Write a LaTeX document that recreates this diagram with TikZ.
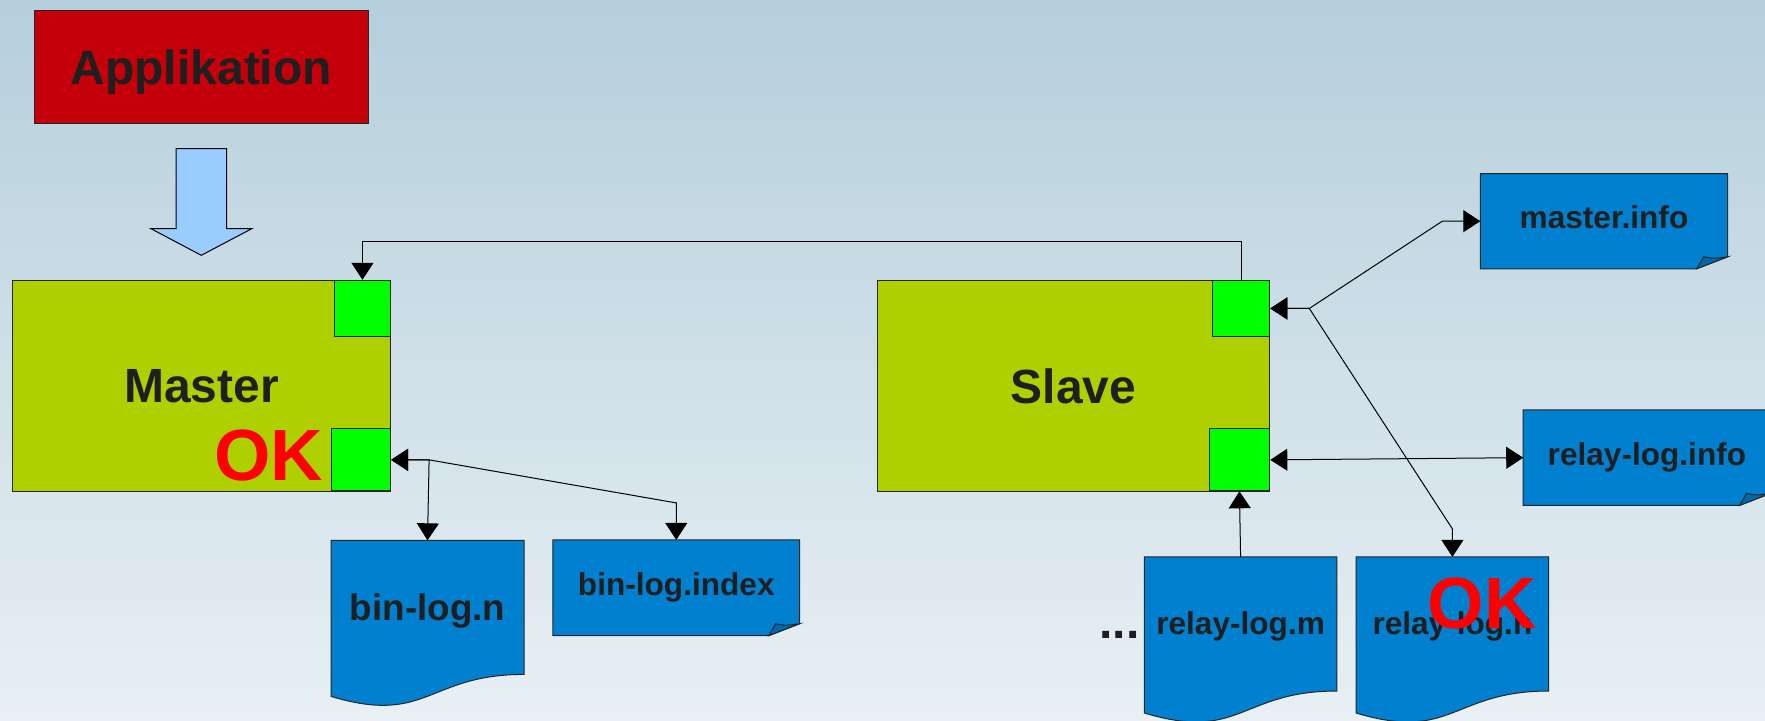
\documentclass[tikz,border=0pt]{standalone}
\usepackage{fontspec}
\setmainfont{Liberation Sans}
\usepackage{tikz}
\usetikzlibrary{arrows.meta,calc}
\definecolor{BgTop}{HTML}{B5CFDC}
\definecolor{BgBottom}{HTML}{E8F0F4}
\definecolor{AppRed}{HTML}{C4000B}
\definecolor{ArrowBlue}{HTML}{99CCFF}
\definecolor{NodeGreen}{HTML}{AFD000}
\definecolor{PortGreen}{HTML}{00FF00}
\definecolor{DocBlue}{HTML}{0080CF}
\definecolor{FoldBlue}{HTML}{0069AD}
\definecolor{TextDark}{HTML}{1F1F1F}
\pgfdeclarelayer{back}
\pgfdeclarelayer{mid}
\pgfsetlayers{back,mid,main}

\begin{document}
\begin{tikzpicture}[x=0.5pt,y=-0.5pt,
    box/.style={draw=black!85,line width=0.5pt,text=TextDark,font=\bfseries\fontsize{24}{28}\selectfont},
    port/.style={draw=black!85,line width=0.5pt,fill=PortGreen},
    file/.style={inner sep=0pt,text=TextDark,font=\bfseries\fontsize{15.8}{19}\selectfont},
    doc/.style={draw=black!85,line width=0.5pt,fill=DocBlue},
    ok/.style={text=red,font=\bfseries\fontsize{36.3}{40}\selectfont},
    link/.style={line width=0.5pt,>={Triangle[length=8.5pt,width=11pt]}}]
    \useasboundingbox (0,0) rectangle (1765,720);
    \begin{pgfonlayer}{back}
    \fill[top color=BgTop,bottom color=BgBottom] (0,0) rectangle (1765,720);
    \end{pgfonlayer}
    %%Application
    \node[box,fill=AppRed,minimum width=167pt,minimum height=56.7pt,text depth=0pt] (app) at (201.3,67) {Applikation};
    \draw[fill=ArrowBlue,line width=0.5pt] (176,148.7) -- (226.7,148.7) -- (226.7,228.7) -- (251.7,228.7) -- (201.3,255.3) -- (151,228.7) -- (176,228.7) -- cycle;
    %%Master and slave
    \node[box,fill=NodeGreen,minimum width=189.1pt,minimum height=105.8pt] (master) at (201.5,386.1) {Master};
    \node[port,minimum width=28.15pt,minimum height=28.15pt] (mtop) at (362.45,308.45) {};
    \node[port,minimum width=29.7pt,minimum height=30.95pt] (mbot) at (360.9,459.85) {};
    \node[ok] (okm) at (268.5,455) {OK};
    \node[box,fill=NodeGreen,minimum width=196.4pt,minimum height=105.7pt] (slave) at (1073.4,386) {Slave};
    \node[port,minimum width=28.7pt,minimum height=28.15pt] (stop) at (1241.1,308.45) {};
    \node[port,minimum width=30.4pt,minimum height=30.95pt] (sbot) at (1239.4,459.85) {};
    %%Files
    \node[file,minimum width=96.1pt,minimum height=66.65pt,text depth=0pt,font=\bfseries\fontsize{18.4}{22}\selectfont] (binn) at (427.5,607.35) {bin-log.n};
    \node[file,minimum width=123pt,minimum height=47.5pt] (binidx) at (676.25,587.8) {bin-log.index};
    \node[file,minimum width=123.3pt,minimum height=47.2pt,text depth=4pt] (minfo) at (1604,221.15) {master.info};
    \node[file,minimum width=123.3pt,minimum height=47.3pt] (rinfo) at (1646.9,457.65) {relay-log.info};
    \node[file,minimum width=95.8pt,minimum height=66.65pt,text depth=1.3pt] (rlogm) at (1240.6,623.95) {relay-log.m};
    \node[file,minimum width=95.9pt,minimum height=66.65pt,text depth=1.3pt] (rlogn) at (1452.4,623.95) {relay-log.n};
    \node[ok] (okn) at (1482,603) {OK};
    \node[file,anchor=base,font=\bfseries\fontsize{24}{28}\selectfont] (dots) at (1119.5,638) {...};
    \begin{pgfonlayer}{mid}
    \foreach \d in {binn,rlogm,rlogn}
    {
    \draw[doc] (\d.north west) -- (\d.north east) -- (\d.south east) .. controls (\d.south) and ($(\d.south)+(0,51)$) .. ($(\d.south west)+(0,22)$) -- cycle;
    }
    \foreach \d in {binidx,minfo,rinfo}
    {
    \draw[doc] (\d.north west) -- (\d.north east) -- ($(\d.south east)+(0,-12)$) -- ($(\d.south east)+(-31,0)$) -- (\d.south west) -- cycle;
    \draw[doc,fill=FoldBlue] ($(\d.south east)+(-31,0)$) -- ($(\d.south east)+(-24,-12)$) .. controls ($(\d.south east)+(-14,-10)$) .. ($(\d.south east)+(0,-12)$) -- cycle;
    }
    \end{pgfonlayer}
    %%Links
    \draw[link,->] (stop.north) -- ++(0,-38) -| (mtop.north);
    \coordinate (mj) at ($(mbot.east)+(38,0)$);
    \draw[link,<->] (mbot.east) -- (mj) -- (binn.north);
    \draw[link,<->] (mbot.east) -- (mj) -- ($(binidx.north)+(0,-37)$) -- (binidx.north);
    \coordinate (sj) at ($(stop.east)+(39,0)$);
    \draw[link,<->] (stop.east) -- (sj) -- ($(minfo.west)+(-38,0)$) -- (minfo.west);
    \draw[link,<->] (stop.east) -- (sj) -- ($(rlogn.north)+(0,-28)$) -- (rlogn.north);
    \draw[link,<->] (sbot.east) -- (rinfo.west);
    \draw[link,->] (rlogm.north) -- (sbot.south);
\end{tikzpicture}
\end{document}
